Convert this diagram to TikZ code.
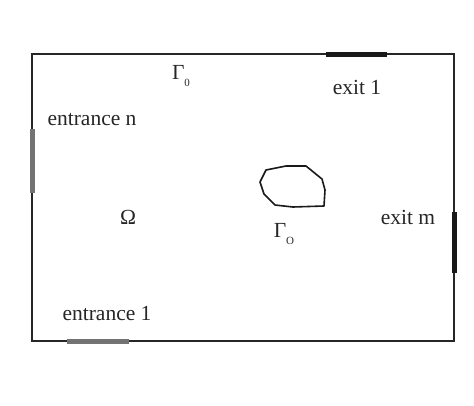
\documentclass[tikz,border=0pt]{standalone}
\usepackage{fontspec}
\setmainfont{Liberation Serif}
\newcommand{\lowsub}[1]{\raisebox{-0.35em}{\fontsize{11}{12}\selectfont #1}}
\begin{document}
\begin{tikzpicture}[x=1pt,y=-1pt,
  wall/.style={line width=1.5pt,draw=black!85},
  exitseg/.style={line width=5pt,draw=black!90},
  entseg/.style={line width=5pt,draw=black!55},
  lbl/.style={font=\fontsize{21.5}{24}\selectfont,text=black!85,inner sep=0pt},
  obst/.style={line width=1.6pt,draw=black!90,line join=round}]
\useasboundingbox (0,0) rectangle (474,405);
\coordinate (tl) at (32,54);
\coordinate (br) at (454,341);
\draw[wall] (tl) rectangle (br);
% exits
\coordinate (e1a) at (326,54); \coordinate (e1b) at (387,54);
\draw[exitseg] (e1a) -- (e1b);
\coordinate (ema) at (454,212); \coordinate (emb) at (454,273);
\draw[exitseg] (ema) -- (emb);
% entrances
\coordinate (ena) at (32,129); \coordinate (enb) at (32,193);
\draw[entseg] (ena) -- (enb);
\coordinate (e1c) at (67,341); \coordinate (e1d) at (129,341);
\draw[entseg] (e1c) -- (e1d);
% obstacle
\draw[obst] (266,170) -- (286,166) -- (306,166) -- (322,179) -- (325,190) -- (324,206) -- (293,207) -- (275,205) -- (264,194) -- (260,182) -- cycle;
% labels
\node[lbl] (g0) at (181,76) {Γ\lowsub{0}};
\node[lbl] (ex1) at (357,87) {exit 1};
\node[lbl] (entn) at (92,120) {entrance n};
\node[lbl] (om) at (128,217) {Ω};
\node[lbl] (gO) at (284,234) {Γ\lowsub{O}};
\node[lbl] (exm) at (408,217) {exit m};
\node[lbl] (ent1) at (107,314) {entrance 1};
\end{tikzpicture}
\end{document}
